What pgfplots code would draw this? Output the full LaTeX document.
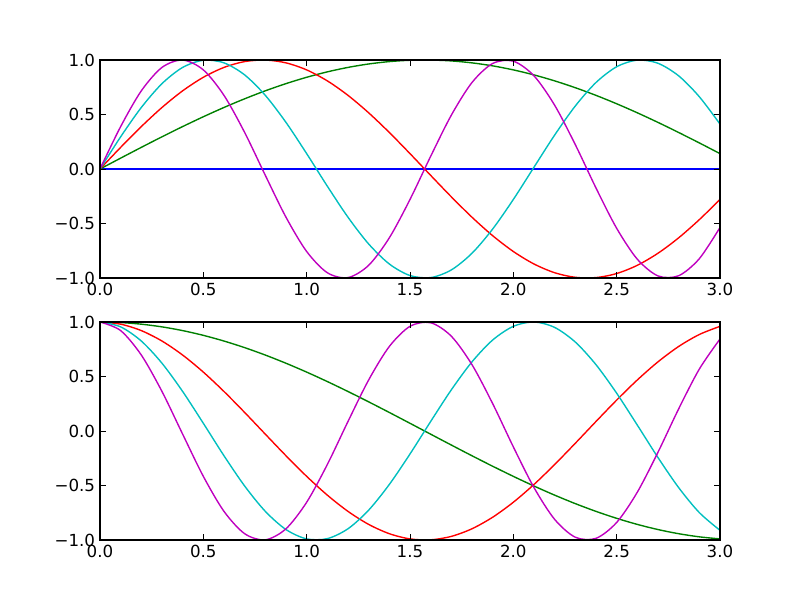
\documentclass[border=0pt]{standalone}
\usepackage{pgfplots}
\pgfplotsset{compat=1.18}
\usepackage{pgfplotstable}
\usepackage{fontspec}
\setmainfont{DejaVu Sans}
\definecolor{mb}{rgb}{0,0,1}
\definecolor{mg}{rgb}{0,0.5,0}
\definecolor{mr}{rgb}{1,0,0}
\definecolor{mc}{rgb}{0,0.75,0.75}
\definecolor{mm}{rgb}{0.75,0,0.75}
\pgfplotstableread{
x s0 s1 s2 s3 s4
0.0 0 0 0 0 0
0.1 0 0.0998 0.1987 0.2955 0.3894
0.2 0 0.1987 0.3894 0.5646 0.7174
0.3 0 0.2955 0.5646 0.7833 0.9320
0.4 0 0.3894 0.7174 0.9320 0.9996
0.5 0 0.4794 0.8415 0.9975 0.9093
0.6 0 0.5646 0.9320 0.9738 0.6755
0.7 0 0.6442 0.9854 0.8632 0.3350
0.8 0 0.7174 0.9996 0.6755 -0.0584
0.9 0 0.7833 0.9738 0.4274 -0.4425
1.0 0 0.8415 0.9093 0.1411 -0.7568
1.1 0 0.8912 0.8085 -0.1577 -0.9516
1.2 0 0.9320 0.6755 -0.4425 -0.9962
1.3 0 0.9636 0.5155 -0.6878 -0.8835
1.4 0 0.9854 0.3350 -0.8716 -0.6313
1.5 0 0.9975 0.1411 -0.9775 -0.2794
1.6 0 0.9996 -0.0584 -0.9962 0.1165
1.7 0 0.9917 -0.2555 -0.9258 0.4941
1.8 0 0.9738 -0.4425 -0.7728 0.7937
1.9 0 0.9463 -0.6119 -0.5507 0.9680
2.0 0 0.9093 -0.7568 -0.2794 0.9893
2.1 0 0.8632 -0.8716 0.0168 0.8546
2.2 0 0.8085 -0.9516 0.3115 0.5849
2.3 0 0.7457 -0.9937 0.5785 0.2229
2.4 0 0.6755 -0.9962 0.7937 -0.1743
2.5 0 0.5985 -0.9589 0.9381 -0.5440
2.6 0 0.5155 -0.8835 0.9986 -0.8278
2.7 0 0.4274 -0.7728 0.9699 -0.9809
2.8 0 0.3350 -0.6313 0.8546 -0.9791
2.9 0 0.2392 -0.4646 0.6630 -0.8228
3.0 0 0.1411 -0.2794 0.4121 -0.5366
}\sines
\pgfplotstableread{
x c0 c1 c2 c3 c4
0.0 1 1 1 1 1
0.1 1 0.9950 0.9801 0.9553 0.9211
0.2 1 0.9801 0.9211 0.8253 0.6967
0.3 1 0.9553 0.8253 0.6216 0.3624
0.4 1 0.9211 0.6967 0.3624 -0.0292
0.5 1 0.8776 0.5403 0.0707 -0.4161
0.6 1 0.8253 0.3624 -0.2272 -0.7374
0.7 1 0.7648 0.1700 -0.5048 -0.9422
0.8 1 0.6967 -0.0292 -0.7374 -0.9983
0.9 1 0.6216 -0.2272 -0.9041 -0.8968
1.0 1 0.5403 -0.4161 -0.9900 -0.6536
1.1 1 0.4536 -0.5885 -0.9875 -0.3073
1.2 1 0.3624 -0.7374 -0.8968 0.0875
1.3 1 0.2675 -0.8569 -0.7260 0.4685
1.4 1 0.1700 -0.9422 -0.4903 0.7756
1.5 1 0.0707 -0.9900 -0.2108 0.9602
1.6 1 -0.0292 -0.9983 0.0875 0.9932
1.7 1 -0.1288 -0.9668 0.3779 0.8695
1.8 1 -0.2272 -0.8968 0.6347 0.6084
1.9 1 -0.3233 -0.7910 0.8347 0.2513
2.0 1 -0.4161 -0.6536 0.9602 -0.1455
2.1 1 -0.5048 -0.4903 0.9999 -0.5193
2.2 1 -0.5885 -0.3073 0.9502 -0.8110
2.3 1 -0.6663 -0.1122 0.8158 -0.9748
2.4 1 -0.7374 0.0875 0.6084 -0.9847
2.5 1 -0.8011 0.2837 0.3467 -0.8391
2.6 1 -0.8569 0.4685 0.0539 -0.5610
2.7 1 -0.9041 0.6347 -0.2436 -0.1944
2.8 1 -0.9422 0.7756 -0.5193 0.2031
2.9 1 -0.9710 0.8855 -0.7487 0.5683
3.0 1 -0.9900 0.9602 -0.9111 0.8439
}\cosines
\pgfplotsset{
  mplax/.style={
    scale only axis, width=446.4pt, height=156.96pt, anchor=south west,
    xmin=0, xmax=3, ymin=-1, ymax=1,
    xtick={0,0.5,1,1.5,2,2.5,3},
    xticklabels={0.0,0.5,1.0,1.5,2.0,2.5,3.0},
    ytick={-1,-0.5,0,0.5,1},
    yticklabels={−1.0,−0.5,0.0,0.5,1.0},
    tick align=inside, major tick length=4pt,
    tick style={black, line width=0.5pt},
    axis line style={line width=1pt},
    axis on top,
    tick label style={font=\fontsize{12}{14}\selectfont},
    every axis plot/.append style={line width=1pt, smooth, no markers},
  }
}
\begin{document}
\begin{tikzpicture}
\path (0,0) rectangle (576pt,432pt);
\begin{axis}[mplax, at={(72pt,231.84pt)}]
\addplot[mb] table[x=x,y=s0]{\sines};
\addplot[mg] table[x=x,y=s1]{\sines};
\addplot[mr] table[x=x,y=s2]{\sines};
\addplot[mc] table[x=x,y=s3]{\sines};
\addplot[mm] table[x=x,y=s4]{\sines};
\end{axis}
\begin{axis}[mplax, at={(72pt,43.2pt)}]
\addplot[mb] table[x=x,y=c0]{\cosines};
\addplot[mg] table[x=x,y=c1]{\cosines};
\addplot[mr] table[x=x,y=c2]{\cosines};
\addplot[mc] table[x=x,y=c3]{\cosines};
\addplot[mm] table[x=x,y=c4]{\cosines};
\end{axis}
\end{tikzpicture}
\end{document}
